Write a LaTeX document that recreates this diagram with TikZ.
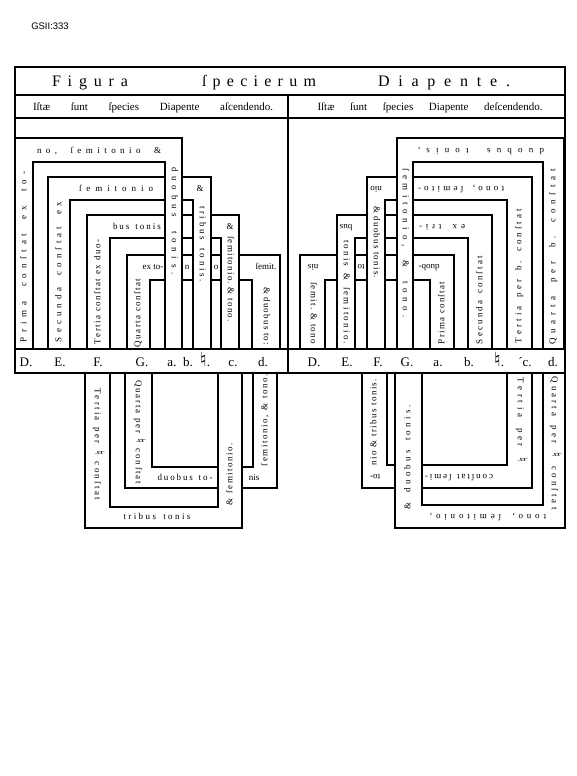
\documentclass[tikz,border=0pt]{standalone}
\usepackage{fontspec}
\usepackage{graphicx}
\setmainfont{Liberation Serif}
\newfontfamily\symf{DejaVu Sans}
\newfontfamily\sansf{Liberation Sans}
\ExplSyntaxOn
\cs_new_protected:Npn \rs_letter:n #1 { {#1} \hfil }
\cs_new_protected:Npn \rs_word:n #1 { \tl_map_function:nN {#1} \rs_letter:n \hfil \hfil }
\NewDocumentCommand \spread { m m }
  {
    \seq_set_split:Nnn \l_tmpa_seq { ~ } {#2}
    \hbox_to_wd:nn {#1} { \seq_map_function:NN \l_tmpa_seq \rs_word:n \unskip \unskip \unskip }
  }
\ExplSyntaxOff
\catcode`\♮=\active
\protected\def♮{{\symf\scalebox{1.5}{\char"266E}}}
\newcommand\capband[6]{\path[band] (#1,349) -- (#1,#3) -- (#6,#3) -- (#6,349) -- (#5,349) -- (#5,#4) -- (#2,#4) -- (#2,349) -- cycle;}
\newcommand\cupband[6]{\path[band] (#1,373) -- (#1,#3) -- (#6,#3) -- (#6,373) -- (#5,373) -- (#5,#4) -- (#2,#4) -- (#2,373) -- cycle;}
\begin{document}
\begin{tikzpicture}[x=1pt,y=-1pt,
  band/.style={draw=black, fill=white, line width=1.2pt},
  frameline/.style={draw=black, line width=1.2pt},
  txt/.style={inner sep=0pt, font=\fontsize{9}{9}\selectfont, text height=6.5pt, text depth=2pt},
  lettr/.style={inner sep=0pt, font=\fontsize{13}{13}\selectfont, anchor=base},
  ttl/.style={inner sep=0pt, font=\fontsize{16}{16}\selectfont, anchor=base},
  subt/.style={inner sep=0pt, font=\fontsize{11}{11}\selectfont, anchor=base}]
\useasboundingbox (0,0) rectangle (576,776);

\node[inner sep=0pt, anchor=base, font=\sansf\fontsize{9.5}{9.5}\selectfont] (gs) at (50,30) {GSII:333};

% ---------- upper left (ascending) ----------
% Quarta
\capband{127}{150}{255}{280}{252}{280}
\node[txt,rotate=90] (aq1) at (138,313) {\spread{68pt}{Quarta conſtat}};
\node[txt] (aq2) at (153,267) {ex to-};
\node[txt] (aq3) at (187,267) {n};
\node[txt] (aq4) at (216,267) {o};
\node[txt] (aq5) at (266,267) {ſemit.};
\node[txt,rotate=-90] (aq6) at (266,316) {\spread{58pt}{\& duobus to:}};
% Tertia
\capband{87}{110}{215}{238}{221}{239}
\node[txt,rotate=90] (at1) at (98,292) {\spread{104pt}{Tertia conſtat ex duo-}};
\node[txt] (at2) at (137,227) {\spread{48pt}{bus tonis}};
\node[txt] (at3) at (230,227) {\&};
\node[txt,rotate=-90] (at4) at (230,279) {\spread{86pt}{ſemitonio. \& tono.}};
% Secunda
\capband{48}{70}{177}{200}{193}{211}
\node[txt,rotate=90] (as1) at (59,272) {\spread{140pt}{Secunda conſtat ex}};
\node[txt] (as2) at (116,189) {\spread{74pt}{ſemitonio}};
\node[txt] (as3) at (200,189) {\&};
\node[txt,rotate=-90] (as4) at (202,244) {\spread{76pt}{tribus tonis.}};
% Prima
\capband{15}{33}{138}{162}{165}{182}
\node[txt,rotate=90] (ap1) at (24,257) {\spread{170pt}{Prima conſtat ex to-}};
\node[txt] (ap2) at (99,151) {\spread{124pt}{no, ſemitonio \&}};
\node[txt,rotate=-90] (ap3) at (174,221) {\spread{107pt}{duobus tonis.}};

% ---------- upper right (descending) ----------
% Prima
\capband{300}{325}{255}{280}{430}{454}
\node[txt,rotate=90] (dp1) at (442,313) {\spread{62pt}{Prima conſtat}};
\node[txt,rotate=180] (dp2) at (429,267) {duob-};
\node[txt,rotate=180] (dp3) at (361,267) {to};
\node[txt,rotate=180] (dp4) at (313,267) {nis};
\node[txt,rotate=-90] (dp5) at (313,313) {\spread{62pt}{ſemit. \& tono}};
% Secunda
\capband{337}{355}{215}{238}{468}{492}
\node[txt,rotate=90] (ds1) at (480,300) {\spread{88pt}{Secunda conſtat}};
\node[txt,rotate=180] (ds2) at (442,227) {\spread{46pt}{ex tri-}};
\node[txt,rotate=180] (ds3) at (346,227) {bus};
\node[txt,rotate=-90] (ds4) at (346,292) {\spread{104pt}{tonis \& ſemitonio.}};
% Tertia
\capband{367}{385}{177}{200}{507}{532}
\node[txt,rotate=90] (dt1) at (519,276) {\spread{134pt}{Tertia per b. conſtat}};
\node[txt,rotate=180] (dt2) at (461,189) {\spread{86pt}{tono, ſemito-}};
\node[txt,rotate=180] (dt3) at (376,189) {nio};
\node[txt,rotate=-90] (dt4) at (376,242) {\spread{72pt}{\& duobus tonis.}};
% Quarta
\capband{397}{413}{138}{162}{543}{564}
\node[txt,rotate=90] (dq1) at (553,257) {\spread{175pt}{Quarta per b. conſtat}};
\node[txt,rotate=180] (dq2) at (481,151) {\spread{126pt}{duobus tonis,}};
\node[txt,rotate=-90] (dq3) at (405,243) {\spread{150pt}{ſemitonio, \& tono.}};

% ---------- lower left ----------
\cupband{125}{152}{488}{467}{253}{277}
\node[txt,rotate=-90] (lq1) at (138,432) {\spread{104pt}{Quarta per ♮ conſtat}};
\node[txt] (lq2) at (185,478) {\spread{55pt}{duobus to-}};
\node[txt] (lq3) at (254,478) {nis};
\node[txt,rotate=90] (lq4) at (265,420) {\spread{92pt}{ſemitonio, \& tono.}};
\cupband{85}{110}{528}{507}{218}{242}
\node[txt,rotate=-90] (lt1) at (97,444) {\spread{112pt}{Tertia per ♮ conſtat}};
\node[txt] (lt2) at (157,517) {\spread{67pt}{tribus tonis}};
\node[txt,rotate=90] (lt3) at (230,474) {\spread{62pt}{\& ſemitonio.}};

% ---------- lower right ----------
\cupband{362}{387}{488}{465}{507}{532}
\node[txt,rotate=-90] (rt1) at (520,420) {\spread{85pt}{Tertia per ♮}};
\node[txt,rotate=180] (rt2) at (459,477) {\spread{68pt}{conſtat ſemi-}};
\node[txt,rotate=180] (rt3) at (375,477) {to-};
\node[txt,rotate=90] (rt4) at (374,422) {\spread{86pt}{nio \& tribus tonis.}};
\cupband{395}{422}{528}{505}{543}{565}
\node[txt,rotate=-90] (rq1) at (554,443) {\spread{133pt}{Quarta per ♮ conſtat}};
\node[txt,rotate=180] (rq2) at (488,517) {\spread{116pt}{tono, ſemitonio,}};
\node[txt,rotate=90] (rq3) at (408,457) {\spread{104pt}{\& duobus tonis.}};

% ---------- frame ----------
\draw[frameline] (15,67) rectangle (565,373);
\draw[frameline] (15,95) -- (565,95);
\draw[frameline] (15,118) -- (565,118);
\draw[frameline] (288,95) -- (288,373);
\draw[frameline] (15,349) -- (565,349);

\node[ttl] (ti1) at (90,86) {\spread{76pt}{Figura}};
\node[ttl] (ti2) at (259,86) {\spread{114pt}{ſpecierum}};
\node[ttl] (ti3) at (444,86) {\spread{132pt}{Diapente.}};
\node[subt] (su1) at (153,110) {\makebox[240pt][s]{Iſtæ ſunt ſpecies Diapente aſcendendo.}};
\node[subt] (su2) at (430,110) {\makebox[225pt][s]{Iſtæ ſunt ſpecies Diapente deſcendendo.}};

% letters
\node[lettr] (l1) at (26,366) {D.};
\node[lettr] (l2) at (60,366) {E.};
\node[lettr] (l3) at (98,366) {F.};
\node[lettr] (l4) at (142,366) {G.};
\node[lettr] (l5) at (172,366) {a.};
\node[lettr] (l6) at (188,366) {b.};
\node[lettr] (l7) at (205,366) {♮.};
\node[lettr] (l8) at (233,366) {c.};
\node[lettr] (l9) at (263,366) {d.};
\node[lettr] (r1) at (314,366) {D.};
\node[lettr] (r2) at (347,366) {E.};
\node[lettr] (r3) at (378,366) {F.};
\node[lettr] (r4) at (407,366) {G.};
\node[lettr] (r5) at (438,366) {a.};
\node[lettr] (r6) at (469,366) {b.};
\node[lettr] (r7) at (499,366) {♮.};
\node[lettr] (r8) at (525,366) {´c.};
\node[lettr] (r9) at (553,366) {d.};
\end{tikzpicture}
\end{document}
